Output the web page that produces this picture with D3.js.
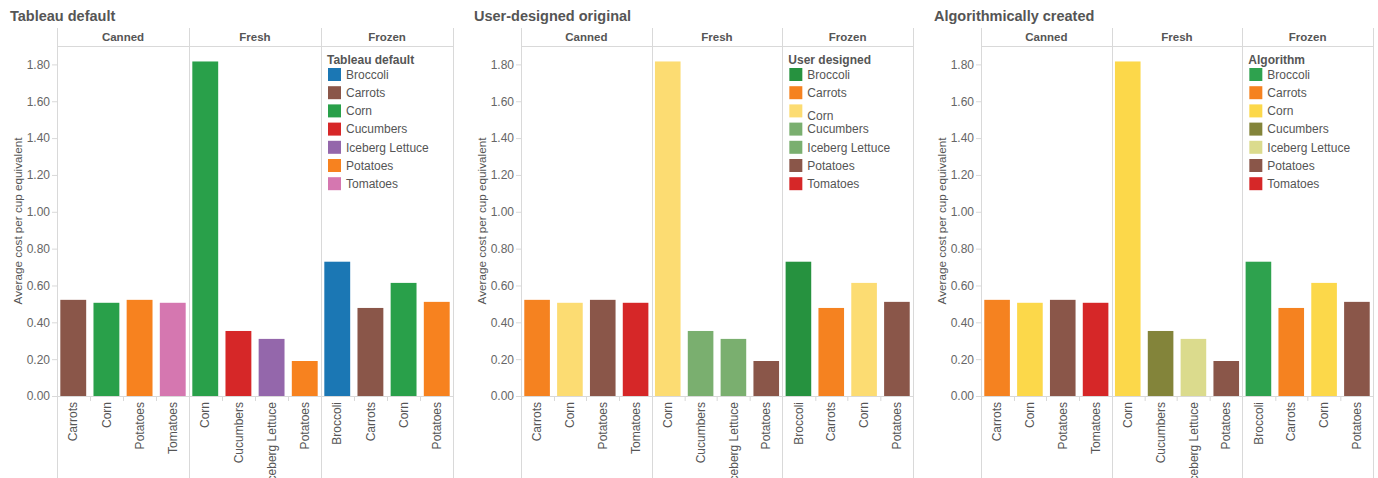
<!DOCTYPE html>
<html>
<head>
<meta charset="utf-8">
<script src="https://cdn.jsdelivr.net/npm/d3@7"></script>
<style>
  body { margin: 0; background: #fff; }
  text { font-family: "Liberation Sans", Arial, sans-serif; }
</style>
</head>
<body>
<svg width="1378" height="478"></svg>
<script>
// ---- data ----
var groups = ["Canned", "Fresh", "Frozen"];

var cannedVeg  = ["Carrots", "Corn", "Potatoes", "Tomatoes"];
var cannedCost = [0.522, 0.506, 0.522, 0.506];

var freshVeg  = ["Corn", "Cucumbers", "Iceberg Lettuce", "Potatoes"];
var freshCost = [1.816, 0.353, 0.310, 0.190];

var frozenVeg  = ["Broccoli", "Carrots", "Corn", "Potatoes"];
var frozenCost = [0.729, 0.478, 0.614, 0.511];

var vegetables = ["Broccoli", "Carrots", "Corn", "Cucumbers", "Iceberg Lettuce", "Potatoes", "Tomatoes"];

var tableauColors   = ["#1b77b4", "#8a5649", "#29a04a", "#d62728", "#9467ab", "#f7821f", "#d577b0"];
var userColors      = ["#26923f", "#f58220", "#fcdc72", "#7aaf6f", "#7aaf6f", "#8a5649", "#d62728"];
var algorithmColors = ["#2ea24e", "#f58220", "#fcd84a", "#83843a", "#dbdb8d", "#8a5649", "#d62728"];

var panelTitles  = ["Tableau default", "User-designed original", "Algorithmically created"];
var legendTitles = ["Tableau default", "User designed", "Algorithm"];

var yTicks = [0, 0.2, 0.4, 0.6, 0.8, 1.0, 1.2, 1.4, 1.6, 1.8];
var yTitle = "Average cost per cup equivalent";

// ---- layout ----
var svg = d3.select("svg");
var gridColor = "#d9d9d9",
    textColor = "#555",
    tickColor = "#666";

var headerTop = 28, headerBottom = 46, baseY = 396, bottomY = 478;
var panelLeft = [57, 521, 981],
    panelWidth = [396, 392, 392];

var cells = [
  {veg: cannedVeg, cost: cannedCost},
  {veg: freshVeg, cost: freshCost},
  {veg: frozenVeg, cost: frozenCost}
];

var y = d3.scaleLinear().domain([0, 1.9]).range([baseY, headerBottom]);

var palettes = [tableauColors, userColors, algorithmColors];

palettes.forEach(function(palette, p) {
  var color = d3.scaleOrdinal().domain(vegetables).range(palette);
  var left = panelLeft[p], width = panelWidth[p];
  var cellW = width / groups.length;
  var g = svg.append("g").attr("transform", "translate(" + left + ",0)");

  // title
  svg.append("text")
    .attr("x", left - 47).attr("y", 21)
    .style("font-size", "14.5px").style("font-weight", "bold")
    .style("fill", textColor)
    .text(panelTitles[p]);

  // y axis
  var yAxis = g.append("g").call(d3.axisLeft(y).tickValues(yTicks).tickSize(5).tickPadding(2)
      .tickFormat(d3.format(".2f")));
  yAxis.select(".domain").remove();
  yAxis.selectAll("line").attr("stroke", gridColor);
  yAxis.selectAll("text").style("font-size", "12px").style("fill", tickColor)
    .style("font-family", "'Liberation Sans', Arial, sans-serif");

  svg.append("text")
    .attr("transform", "translate(" + (left - 39) + "," + ((baseY + headerBottom) / 2) + ") rotate(-90)")
    .attr("text-anchor", "middle").attr("dy", "0.35em")
    .style("font-size", "11.7px").style("fill", textColor)
    .text(yTitle);

  // header + grid
  g.append("line").attr("x1", 0).attr("x2", width)
    .attr("y1", headerBottom + 0.5).attr("y2", headerBottom + 0.5)
    .attr("stroke", gridColor);
  g.append("line").attr("x1", -5).attr("x2", width)
    .attr("y1", baseY + 0.5).attr("y2", baseY + 0.5)
    .attr("stroke", gridColor);

  d3.range(groups.length + 1).forEach(function(i) {
    g.append("line")
      .attr("x1", Math.round(i * cellW) + 0.5).attr("x2", Math.round(i * cellW) + 0.5)
      .attr("y1", headerTop).attr("y2", bottomY)
      .attr("stroke", gridColor);
  });

  groups.forEach(function(grp, c) {
    var cell = cells[c];
    var cx = c * cellW;
    var cg = g.append("g").attr("transform", "translate(" + cx + ",0)");

    cg.append("text")
      .attr("x", cellW / 2).attr("y", (headerTop + headerBottom) / 2)
      .attr("dy", "0.35em").attr("text-anchor", "middle")
      .style("font-size", "11.5px").style("font-weight", "bold").style("fill", textColor)
      .text(grp);

    var x = d3.scaleBand().domain(cell.veg).range([0, cellW])
      .paddingInner(0.22).paddingOuter(0.1);

    cg.selectAll("rect.bar")
      .data(cell.veg)
      .enter().append("rect")
        .attr("class", "bar")
        .attr("x", function(d) { return x(d); })
        .attr("width", x.bandwidth())
        .attr("y", function(d, i) { return y(cell.cost[i]); })
        .attr("height", function(d, i) { return baseY - y(cell.cost[i]); })
        .attr("fill", function(d) { return color(d); });

    // separator ticks between bars
    cg.selectAll("line.sep")
      .data(cell.veg.slice(1))
      .enter().append("line")
        .attr("class", "sep")
        .attr("x1", function(d) { return Math.round(x(d) - x.step() * x.paddingInner() / 2) + 0.5; })
        .attr("x2", function(d) { return Math.round(x(d) - x.step() * x.paddingInner() / 2) + 0.5; })
        .attr("y1", baseY).attr("y2", baseY + 5)
        .attr("stroke", gridColor);

    // x labels (long ones run off the bottom edge, as in the original)
    var xAxis = cg.append("g").attr("transform", "translate(0," + baseY + ")")
      .call(d3.axisBottom(x).tickSize(0).tickPadding(0));
    xAxis.select(".domain").remove();
    xAxis.selectAll("text")
      .attr("transform", "rotate(-90)")
      .attr("x", -6).attr("y", 0).attr("dy", "0.35em")
      .attr("text-anchor", "end")
      .style("font-size", "12px").style("fill", textColor)
      .style("font-family", "'Liberation Sans', Arial, sans-serif");
  });

  // legend inside the Frozen cell
  var lg = g.append("g").attr("transform", "translate(" + (2 * cellW + 6) + ",0)");
  lg.append("text")
    .attr("x", 0).attr("y", 64)
    .style("font-size", "12px").style("font-weight", "bold").style("fill", textColor)
    .text(legendTitles[p]);

  var rows = lg.selectAll("g.row")
    .data(vegetables)
    .enter().append("g")
      .attr("class", "row")
      .attr("transform", function(d, i) { return "translate(1," + (68 + i * 18.2) + ")"; });
  rows.append("rect")
    .attr("width", 13).attr("height", 13)
    .attr("fill", function(d) { return color(d); });
  rows.append("text")
    .attr("x", 18)
    // the user-designed legend has its "Corn" label sitting a little low
    .attr("y", function(d) { return (p === 1 && d === "Corn") ? 11.5 : 6.5; })
    .attr("dy", "0.35em")
    .style("font-size", "12px").style("fill", textColor)
    .text(function(d) { return d; });
});
</script>
</body>
</html>
